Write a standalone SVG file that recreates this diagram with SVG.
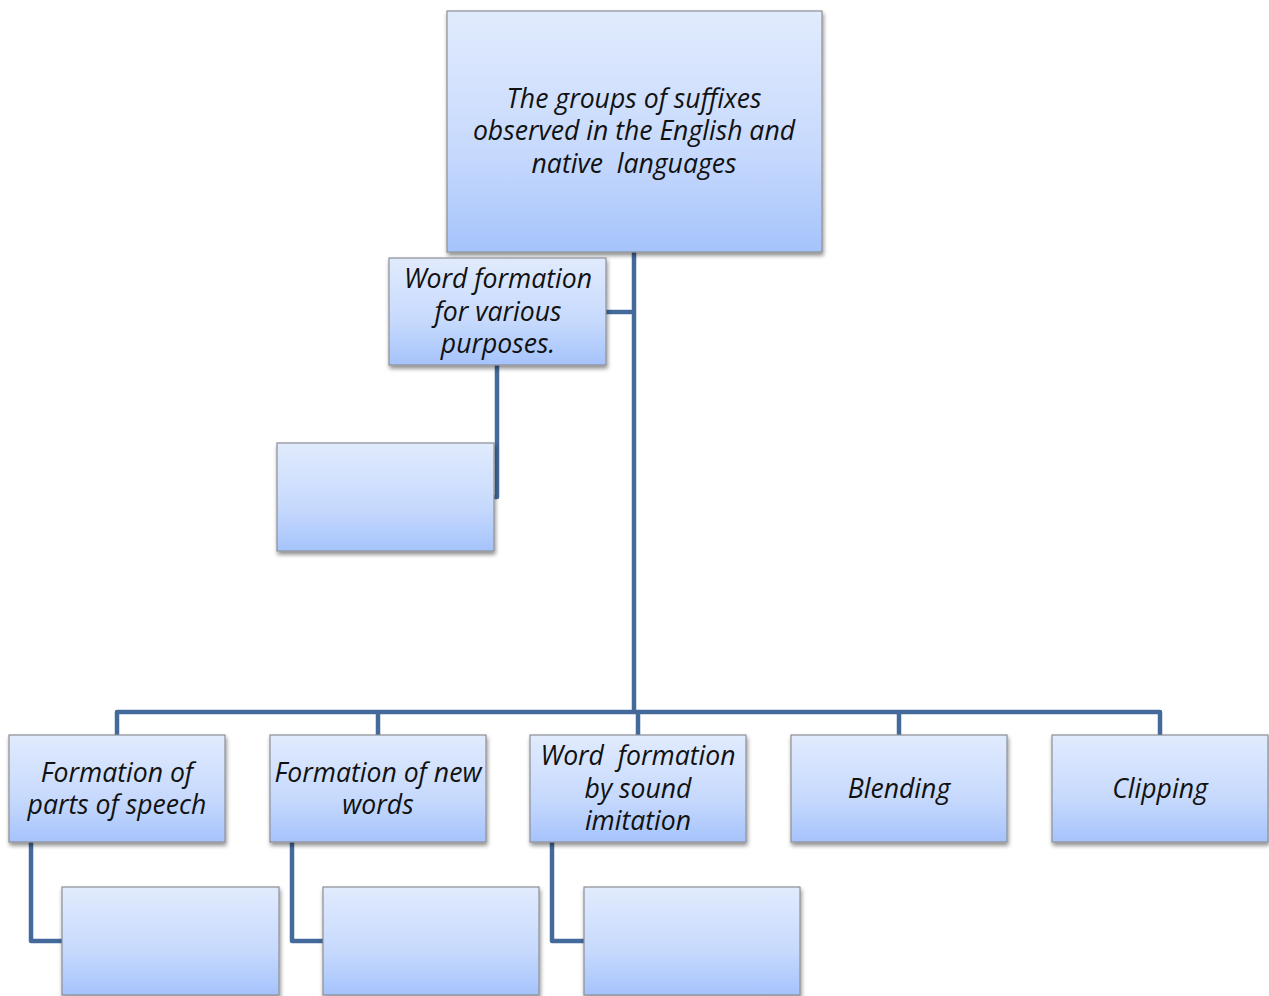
<svg xmlns="http://www.w3.org/2000/svg" width="1269" height="996" viewBox="0 0 1269 996">
<defs>
<linearGradient id="g" x1="0" y1="0" x2="0" y2="1">
<stop offset="0" stop-color="#e1ebfd"/>
<stop offset="0.6" stop-color="#c6d9fd"/>
<stop offset="1" stop-color="#a5c3fb"/>
</linearGradient>
<filter id="sh" x="-10%" y="-10%" width="125%" height="130%">
<feGaussianBlur in="SourceAlpha" stdDeviation="2"/>
<feOffset dx="1" dy="3"/>
<feComponentTransfer><feFuncA type="linear" slope="0.45"/></feComponentTransfer>
<feMerge><feMergeNode/><feMergeNode in="SourceGraphic"/></feMerge>
</filter>
</defs>
<style>
.box{fill:url(#g);stroke:#8c8f96;stroke-width:1.2;filter:url(#sh)}
.t{font-family:"Open Sans","Noto Sans",sans-serif;font-style:italic;font-size:26.6px;fill:#111;text-anchor:middle;white-space:pre}
.c{fill:none;stroke:#44699b;stroke-width:4.5;stroke-linejoin:round}
</style>
<rect width="1269" height="996" fill="#fff"/>
<g id="connectors">
<path class="c" d="M634 252V712"/>
<path class="c" d="M606 312H634"/>
<path class="c" d="M497 365V497H494"/>
<path class="c" d="M117 735V712H1160V735"/>
<path class="c" d="M378 712V735M638 712V735M899 712V735"/>
<path class="c" d="M31 842V941H62"/>
<path class="c" d="M292 842V941H323"/>
<path class="c" d="M552 842V941H584"/>
</g>
<g id="root"><rect class="box" x="447" y="11" width="375" height="241"/>
<text class="t" xml:space="preserve"><tspan x="634" y="108">The groups of suffixes</tspan><tspan x="634" y="140">observed in the English and</tspan><tspan x="634" y="173">native  languages</tspan></text></g>
<g id="wf-various"><rect class="box" x="389" y="258" width="217" height="107"/>
<text class="t"><tspan x="498" y="288">Word formation</tspan><tspan x="498" y="321">for various</tspan><tspan x="498" y="353">purposes.</tspan></text></g>
<g id="wf-various-child"><rect class="box" x="277" y="443" width="217" height="108"/></g>
<g id="parts-of-speech"><rect class="box" x="9" y="735" width="216" height="107"/>
<text class="t"><tspan x="117" y="782">Formation of</tspan><tspan x="117" y="814">parts of speech</tspan></text></g>
<g id="new-words"><rect class="box" x="270" y="735" width="216" height="107"/>
<text class="t"><tspan x="378" y="782">Formation of new</tspan><tspan x="378" y="814">words</tspan></text></g>
<g id="sound-imitation"><rect class="box" x="530" y="735" width="216" height="107"/>
<text class="t" xml:space="preserve"><tspan x="638" y="765">Word  formation</tspan><tspan x="638" y="798">by sound</tspan><tspan x="638" y="830">imitation</tspan></text></g>
<g id="blending"><rect class="box" x="791" y="735" width="216" height="107"/>
<text class="t" x="899" y="798">Blending</text></g>
<g id="clipping"><rect class="box" x="1052" y="735" width="216" height="107"/>
<text class="t" x="1160" y="798">Clipping</text></g>
<g id="parts-child"><rect class="box" x="62" y="887" width="217" height="108"/></g>
<g id="new-words-child"><rect class="box" x="323" y="887" width="216" height="108"/></g>
<g id="sound-child"><rect class="box" x="584" y="887" width="216" height="108"/></g>
</svg>
